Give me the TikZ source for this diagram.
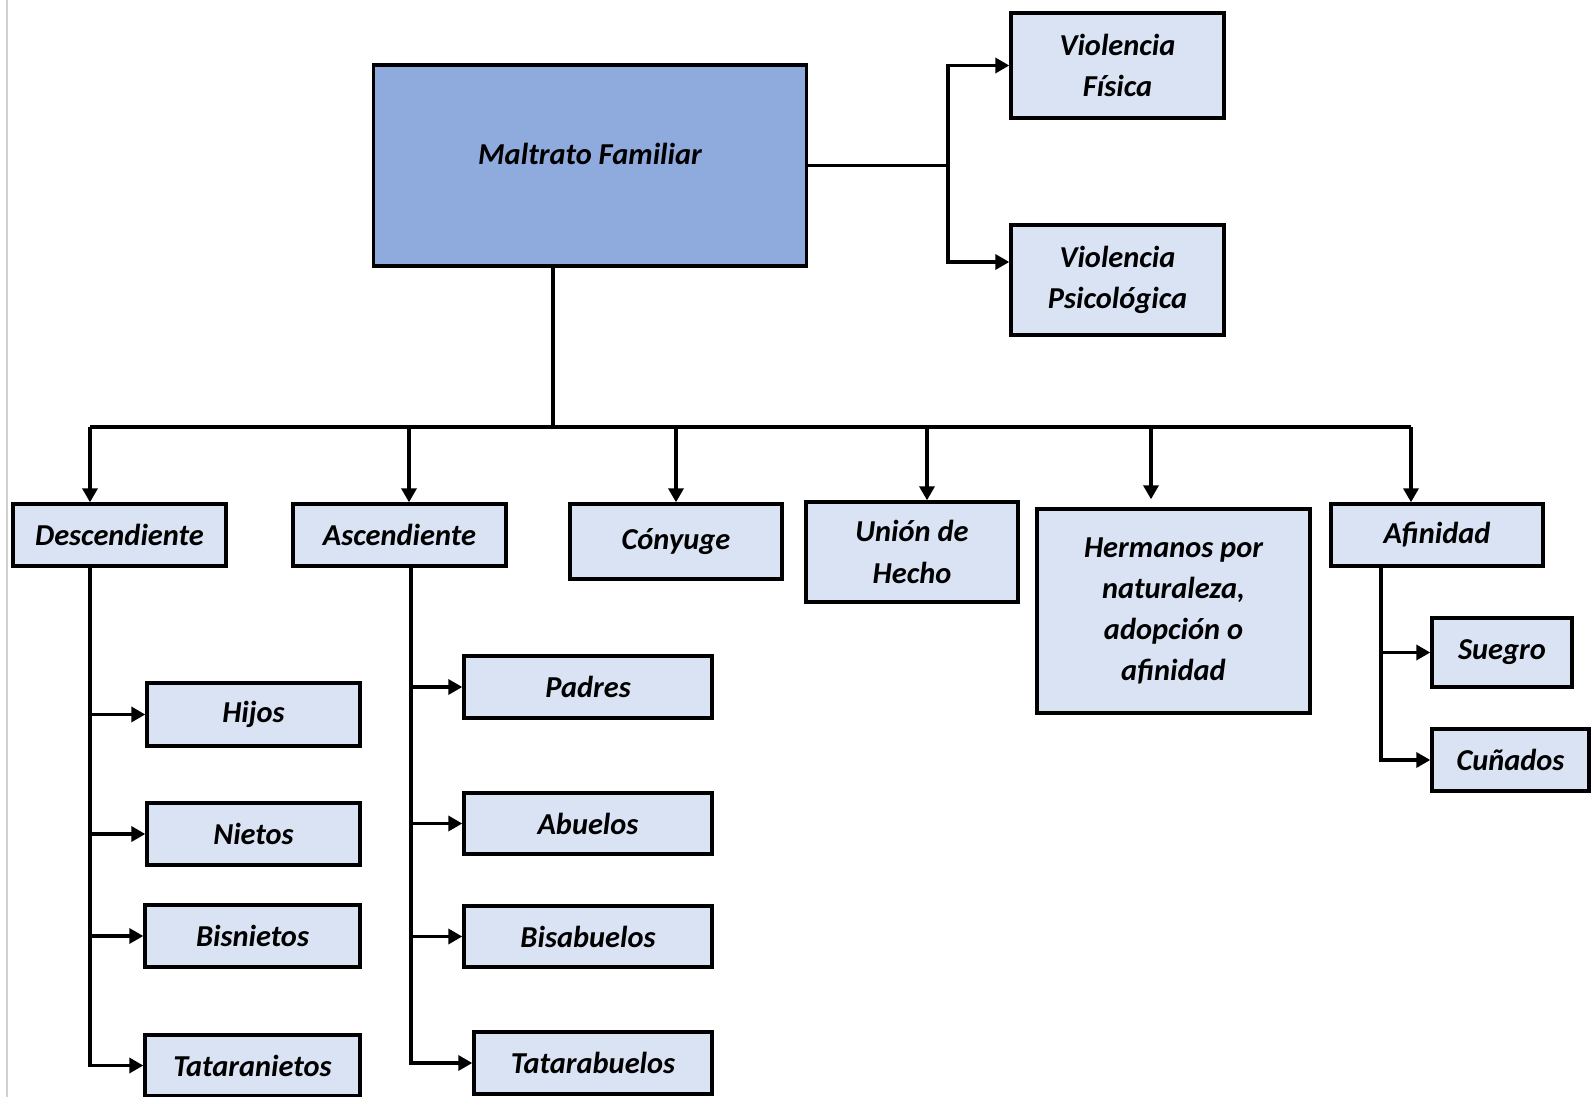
\documentclass[tikz,border=0pt]{standalone}
\usepackage{fontspec}
\setmainfont{Carlito}
\usepackage{tikz}
\usetikzlibrary{arrows.meta}
\definecolor{azulfuerte}{HTML}{8FAADC}
\definecolor{azulclaro}{HTML}{DAE3F3}

\begin{document}
\begin{tikzpicture}[x=0.5pt,y=-0.5pt,
    caja/.style={draw,line width=1.7pt,fill=azulclaro,align=center,inner sep=0pt,
      font=\fontsize{15.2}{20.6}\selectfont\bfseries\itshape},
    linea/.style={line width=1.7pt},
    flecha/.style={line width=1.7pt,-{Triangle[length=7pt,width=7.5pt]}}]
    \useasboundingbox (0,0) rectangle (1592,1097);
    \draw[line width=1pt,black!18] (7,0)--(7,1097);
    % cajas
    \node[caja,fill=azulfuerte,minimum width=216.5pt,minimum height=100.5pt,text depth=12pt](mal) at (590,165.5){Maltrato Familiar};
    \node[caja,minimum width=106.5pt,minimum height=52.5pt](vf) at (1117.5,65.5){Violencia\\Física};
    \node[caja,minimum width=106.5pt,minimum height=55pt](vp) at (1117.5,280){Violencia\\Psicológica};
    \node[caja,minimum width=106.5pt,minimum height=31pt](des) at (119.5,535){Descendiente};
    \node[caja,minimum width=106.5pt,minimum height=31pt](asc) at (399.5,535){Ascendiente};
    \node[caja,minimum width=106pt,minimum height=37.5pt](con) at (676,541.5){Cónyuge};
    \node[caja,minimum width=106pt,minimum height=50pt](uni) at (912,552){Unión de\\Hecho};
    \node[caja,minimum width=136.5pt,minimum height=102pt](her) at (1173.5,611){Hermanos por\\naturaleza,\\adopción o\\afinidad};
    \node[caja,minimum width=106pt,minimum height=31pt](afi) at (1437,535){Afinidad};
    \node[caja,minimum width=106.5pt,minimum height=31.5pt](hij) at (253.5,714.5){Hijos};
    \node[caja,minimum width=106.5pt,minimum height=31pt](nie) at (253.5,834){Nietos};
    \node[caja,minimum width=107.5pt,minimum height=31pt](bis) at (252.5,936){Bisnietos};
    \node[caja,minimum width=107.5pt,minimum height=30.5pt](tat) at (252.5,1065.5){Tataranietos};
    \node[caja,minimum width=124pt,minimum height=31pt](pad) at (588,687){Padres};
    \node[caja,minimum width=124pt,minimum height=30.5pt](abu) at (588,823.5){Abuelos};
    \node[caja,minimum width=124pt,minimum height=30.5pt](bisa) at (588,936.5){Bisabuelos};
    \node[caja,minimum width=119pt,minimum height=31pt](tata) at (593,1063){Tatarabuelos};
    \node[caja,minimum width=70pt,minimum height=34.5pt](sue) at (1502,652.5){Suegro};
    \node[caja,minimum width=78.5pt,minimum height=31pt](cun) at (1510.5,760){Cuñados};
    % puntos de las ramas
    \coordinate(rb) at (948,165.5);
    \coordinate(bm) at (553,427);
    \coordinate(b1) at (90,427);
    \coordinate(b2) at (409,427);
    \coordinate(b3) at (676,427);
    \coordinate(b4) at (927,427);
    \coordinate(b5) at (1151,427);
    \coordinate(b6) at (1411,427);
    \coordinate(ad) at (411,566);
    \coordinate(fd) at (1381,566);
    % conectores
    \draw[linea](mal.east)--(rb);
    \draw[flecha](rb)|-(vf.west);
    \draw[flecha](rb)|-([yshift=9pt]vp.west);
    \draw[linea](bm|-mal.south)--(bm);
    \draw[linea](b1)--(b6);
    \draw[flecha](b1)--(b1|-des.north);
    \draw[flecha](b2)--(b2|-asc.north);
    \draw[flecha](b3)--(b3|-con.north);
    \draw[flecha](b4)--(b4|-uni.north);
    \draw[flecha](b5)--([yshift=4pt]b5|-her.north);
    \draw[flecha](b6)--(b6|-afi.north);
    \draw[flecha](b1|-des.south)|-(tat.west);
    \foreach \n in {hij,nie,bis}
      \draw[flecha](b1|-\n.west)--(\n.west);
    \draw[flecha](ad)|-(tata.west);
    \foreach \n in {pad,abu,bisa}
      \draw[flecha](ad|-\n.west)--(\n.west);
    \draw[flecha](fd)|-(cun.west);
    \draw[flecha](fd|-sue.west)--(sue.west);
\end{tikzpicture}
\end{document}
